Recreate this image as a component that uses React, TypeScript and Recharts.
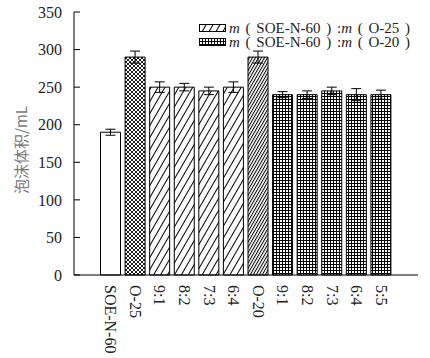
import React from 'react';
import {
  BarChart,
  Bar,
  Cell,
  XAxis,
  YAxis,
  ErrorBar,
  Legend,
  Label
} from 'recharts';

// 泡沫体积 per sample
const categories = ['SOE-N-60', 'O-25', '9:1', '8:2', '7:3', '6:4', 'O-20', '9:1', '8:2', '7:3', '6:4', '5:5'];
const groups = ['base', 'o25', 'mix25', 'mix25', 'mix25', 'mix25', 'o20', 'mix20', 'mix20', 'mix20', 'mix20', 'mix20'];
const foamVolume = [190, 290, 250, 250, 245, 250, 290, 240, 240, 245, 240, 240];
const foamError = [4, 8, 7, 5, 5, 7, 8, 4, 5, 5, 8, 6];
const yTicks = [0, 50, 100, 150, 200, 250, 300, 350];
const legendItems = [
  { group: 'mix25', other: 'O-25' },
  { group: 'mix20', other: 'O-20' }
];

const data = categories.map((name, i) => ({
  name,
  group: groups[i],
  value: foamVolume[i],
  err: foamError[i]
}));

const fills: Record<string, string> = {
  base: '#fff',
  o25: 'url(#pCross)',
  mix25: 'url(#pHatch)',
  o20: 'url(#pDense)',
  mix20: 'url(#pGrid)'
};

const serif = '"Liberation Serif", "Times New Roman", serif';
const cjk = '"Noto Sans CJK SC", sans-serif';

const Patterns = () => (
  <defs>
    <pattern id="pCross" patternUnits="userSpaceOnUse" width="4" height="4">
      <rect width="4" height="4" fill="#fff" />
      <path d="M0,0 L4,4 M4,0 L0,4" stroke="#000" strokeWidth="0.9" />
    </pattern>
    <pattern id="pHatch" patternUnits="userSpaceOnUse" width="6" height="6" patternTransform="rotate(30)">
      <rect width="6" height="6" fill="#fff" />
      <line x1="0.5" y1="0" x2="0.5" y2="6" stroke="#000" strokeWidth="1" />
    </pattern>
    <pattern id="pDense" patternUnits="userSpaceOnUse" width="2.6" height="6" patternTransform="rotate(30)">
      <rect width="2.6" height="6" fill="#fff" />
      <line x1="0.5" y1="0" x2="0.5" y2="6" stroke="#000" strokeWidth="1" />
    </pattern>
    <pattern id="pGrid" patternUnits="userSpaceOnUse" width="3" height="3">
      <rect width="3" height="3" fill="#fff" />
      <path d="M0,0.5 H3 M0.5,0 V3" stroke="#000" strokeWidth="1" />
    </pattern>
  </defs>
);

const XTick = (props: any) => {
  const { x, y, payload } = props;
  return (
    <text
      x={x}
      y={y}
      transform={`rotate(90, ${x}, ${y})`}
      textAnchor="start"
      dominantBaseline="central"
      fontFamily={serif}
      fontSize={16}
      fill="#222"
    >
      {payload.value}
    </text>
  );
};

const LegendBox = () => (
  <div style={{ fontFamily: serif, fontSize: 15, color: '#222', lineHeight: '14px', wordSpacing: 2 }}>
    {legendItems.map((item) => (
      <div key={item.group} style={{ display: 'flex', alignItems: 'center', whiteSpace: 'pre', height: 14 }}>
        <svg width={27} height={8} style={{ marginRight: 3 }}>
          <rect x={0.5} y={0.5} width={26} height={7} fill={fills[item.group]} stroke="#000" />
        </svg>
        <span>
          <i>m</i>{' ( SOE-N-60 ) :'}<i>m</i>{` ( ${item.other} )`}
        </span>
      </div>
    ))}
  </div>
);

const App: React.FC = () => {
  return (
    <div style={{ position: 'absolute', left: 0, top: 0, width: 430, height: 358, background: '#fff' }}>
      <BarChart
        width={430}
        height={358}
        data={data}
        margin={{ top: 12, right: 12, left: 0, bottom: 0 }}
        barCategoryGap={2}
      >
        <Patterns />
        <XAxis
          dataKey="name"
          height={83}
          interval={0}
          tickLine={false}
          tickSize={0}
          tickMargin={10}
          tick={<XTick />}
          axisLine={{ stroke: '#000' }}
          padding={{ left: 24.5, right: 24.5 }}
        />
        <XAxis xAxisId="top" dataKey="name" orientation="top" height={0} tick={false} tickLine={false} axisLine={{ stroke: '#000' }} />
        <YAxis
          width={74}
          domain={[0, 350]}
          ticks={yTicks}
          interval={0}
          tickSize={-6}
          tickMargin={18}
          tickLine={{ stroke: '#000' }}
          axisLine={{ stroke: '#000' }}
          tick={{ fontFamily: serif, fontSize: 16, fill: '#222' }}
        >
          <Label
            content={() => (
              <text
                x={20}
                y={150}
                transform="rotate(-90, 20, 150)"
                textAnchor="middle"
                dominantBaseline="central"
                fontFamily={cjk}
                fontSize={15}
                fill="#777"
              >
                泡沫体积/mL
              </text>
            )}
          />
        </YAxis>
        <YAxis yAxisId="right" orientation="right" width={0} domain={[0, 350]} tick={false} tickLine={false} axisLine={{ stroke: '#000' }} />
        <Legend
          content={<LegendBox />}
          layout="horizontal"
          verticalAlign="middle"
          align="center"
          wrapperStyle={{ left: 199, top: 21, width: 231 }}
        />
        <Bar dataKey="value" barSize={20} stroke="#000" strokeWidth={1} isAnimationActive={false}>
          {data.map((d, i) => (
            <Cell key={i} fill={fills[d.group]} />
          ))}
          <ErrorBar dataKey="err" width={5} stroke="#000" strokeWidth={1} direction="y" />
        </Bar>
      </BarChart>
    </div>
  );
};

export default App;
